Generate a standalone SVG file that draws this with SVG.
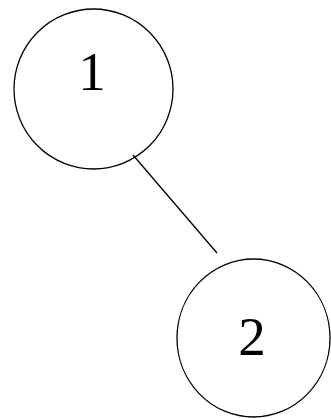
<svg xmlns="http://www.w3.org/2000/svg" width="331" height="418" viewBox="0 0 331 418">
<style>
.n{fill:none;stroke:#000;stroke-width:1.3}
.t{font-family:"Liberation Serif",serif;font-size:55px;text-anchor:middle;fill:#000}
.e{stroke:#000;stroke-width:1.3}
</style>
<rect width="331" height="418" fill="#fff"/>
<g id="edges"><line class="e" x1="133" y1="155" x2="217" y2="253"/></g>
<g id="node1"><ellipse class="n" cx="93.5" cy="89" rx="79.5" ry="80"/><text class="t" x="92" y="90">1</text></g>
<g id="node2"><ellipse class="n" cx="253.5" cy="338" rx="76.5" ry="79"/><text class="t" x="252" y="355">2</text></g>
</svg>
